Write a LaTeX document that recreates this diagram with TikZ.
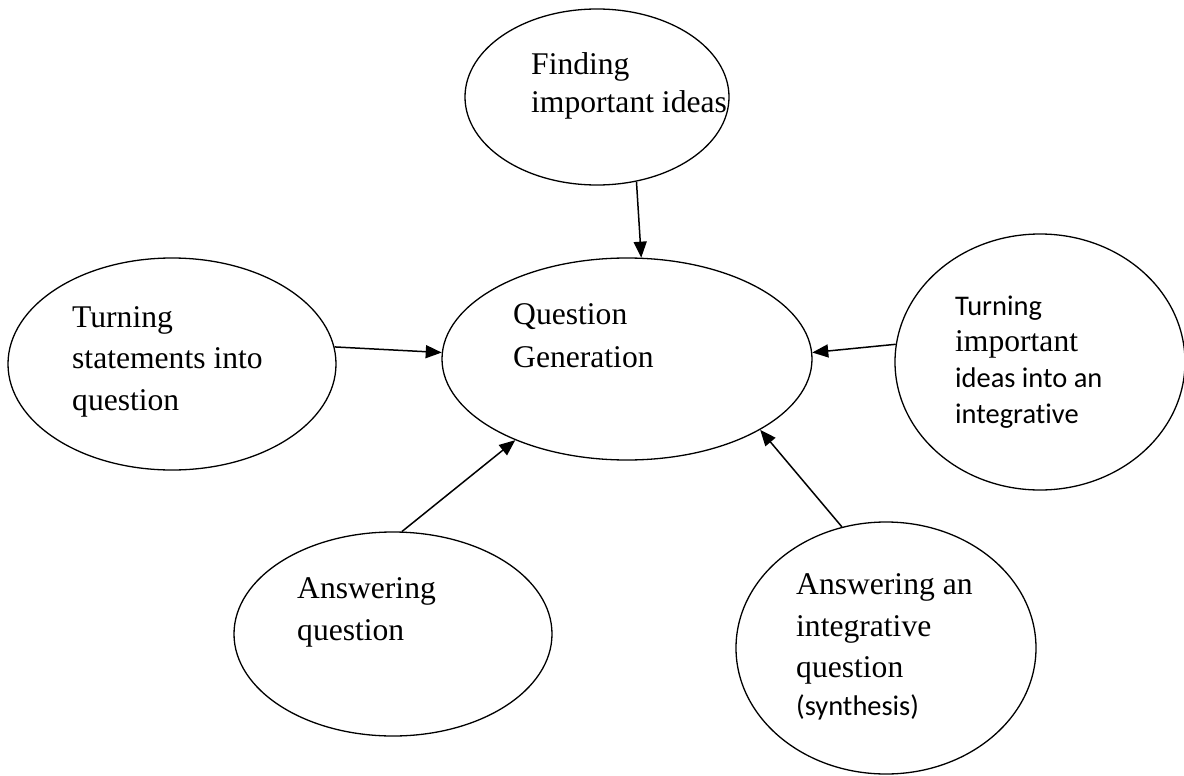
\documentclass[tikz,border=0pt]{standalone}
\usepackage{fontspec}
\setmainfont{Liberation Serif}
\newfontfamily\calibri[Scale=0.9, Ligatures=NoCommon]{Carlito}
\usetikzlibrary{shapes.geometric, arrows.meta}

\tikzset{
  bubble/.style={draw, ellipse, line width=1.3pt, inner sep=0pt},
  words/.style={anchor=base west, align=left, inner sep=0pt},
  feed/.style={-{Triangle[length=16pt,width=13pt]}, line width=1.5pt},
}

\begin{document}
\begin{tikzpicture}[x=1pt, y=-1pt]
  \useasboundingbox (0,0) rectangle (1184,776);

  % Draw the ellipses
  \node[bubble, minimum width=264pt, minimum height=176pt] (find) at (597,97) {};
  \node[bubble, minimum width=370pt, minimum height=202pt] (qgen) at (627,359) {};
  \node[bubble, minimum width=328pt, minimum height=212pt] (turnst) at (172,364) {};
  \node[bubble, minimum width=290pt, minimum height=256pt] (turnid) at (1040,362) {};
  \node[bubble, minimum width=318pt, minimum height=204pt] (answq) at (393,634) {};
  \node[bubble, minimum width=300pt, minimum height=252pt] (answint) at (886,648) {};

  % Put the texts inside (anchored at the last baseline)
  \node[words, font=\fontsize{31.6}{39}\selectfont] (find-t) at (531,113)
    {Finding\\important ideas};
  \node[words, font=\fontsize{31.6}{43}\selectfont] (qgen-t) at (513,367)
    {Question\\Generation};
  \node[words, font=\fontsize{31.6}{41.5}\selectfont] (turnst-t) at (72,410)
    {Turning\\statements into\\question};
  \node[words, font=\fontsize{31.6}{36}\selectfont] (turnid-t) at (955,423)
    {{\calibri Turning}\\important\\{\calibri ideas into an}\\{\calibri integrative}};
  \node[words, font=\fontsize{31.6}{42}\selectfont] (answq-t) at (297,640)
    {Answering\\question};
  \node[words, font=\fontsize{31.6}{41.5}\selectfont] (answint-t) at (796,715)
    {Answering an\\integrative\\question\\[-4pt]{\calibri (synthesis)}};

  % Draw the arrows into the centre
  \draw[feed] (find.-65) -- (qgen.82);
  \draw[feed] (turnst.6.6) -- (qgen.178);
  \draw[feed] (turnid.173.3) -- (qgen.2.8);
  \draw[feed] (answq.85) -- (qgen.-144);
  \draw[feed] (answint.110.3) -- (qgen.-28.2);
\end{tikzpicture}
\end{document}
